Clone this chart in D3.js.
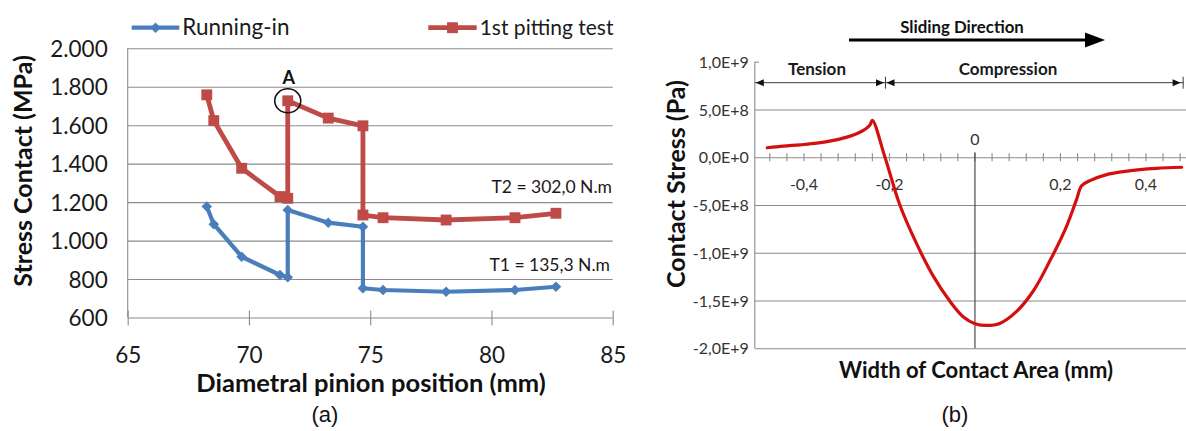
<!DOCTYPE html>
<html>
<head>
<meta charset="utf-8">
<script src="https://cdn.jsdelivr.net/npm/d3@7"></script>
<style>
  html, body { margin: 0; padding: 0; background: #ffffff; }
  svg { display: block; }
</style>
</head>
<body>
<script>
// ---------- Panel (a): contact stress along the pinion flank ----------
const pinionPositionMm = [68.26, 68.55, 69.70, 71.28, 71.60, 71.60, 73.27, 74.70, 74.70, 75.53, 78.13, 80.97, 82.66];
const runningInMPa     = [1177, 1085, 916, 821, 809, 1159, 1093, 1072, 752, 743, 734, 743, 760];
const pittingTestMPa   = [1758, 1624, 1376, 1229, 1220, 1727, 1637, 1597, 1133, 1119, 1107, 1119, 1142];
const seriesNames      = ["Running-in", "1st pitting test"];
const stressTicks      = [600, 800, 1000, 1200, 1400, 1600, 1800, 2000];
const stressTickLabels = ["600", "800", "1.000", "1.200", "1.400", "1.600", "1.800", "2.000"];
const positionTicks    = [65, 70, 75, 80, 85];
const torqueNotes      = ["T2 = 302,0 N.m", "T1 = 135,3 N.m"];
const markedPointIndex = 5;   // point "A" on the pitting-test series

// ---------- Panel (b): contact stress across the contact width ----------
const contactWidthMm = [-0.486, -0.448, -0.409, -0.370, -0.331, -0.292, -0.261, -0.246, -0.240,
                        -0.2105, -0.175, -0.136, -0.0975, -0.0585, -0.027, 0, 0.027, 0.058,
                        0.0975, 0.136, 0.175, 0.2145, 0.238, 0.2495, 0.269, 0.308, 0.347,
                        0.386, 0.425, 0.4835];
const contactStressPa = [0.99e8, 1.16e8, 1.30e8, 1.47e8, 1.76e8, 2.21e8, 2.81e8, 3.34e8, 3.86e8,
                         0, -5.08e8, -9.10e8, -1.245e9, -1.508e9, -1.672e9, -1.742e9, -1.761e9, -1.740e9,
                         -1.614e9, -1.403e9, -1.087e9, -7.20e8, -4.38e8, -2.98e8, -2.45e8, -1.82e8, -1.50e8,
                         -1.29e8, -1.16e8, -1.05e8];
const stressPaTicks      = [-2e9, -1.5e9, -1e9, -5e8, 0, 5e8, 1e9];
const stressPaTickLabels = ["-2,0E+9", "-1,5E+9", "-1,0E+9", "-5,0E+8", "0,0E+0", "5,0E+8", "1,0E+9"];
const widthTicks         = [-0.4, -0.2, 0, 0.2, 0.4];
const widthTickLabels    = ["-0,4", "-0,2", "0", "0,2", "0,4"];
const zoneLabels         = ["Tension", "Compression"];
const zoneBoundsMm       = [-0.515, -0.2105, 0.4835];

const W = 1186, H = 431;
const svg = d3.select("body").append("svg").attr("width", W).attr("height", H);

const BLUE = "#4a7ebb", RED = "#be4b48", GRID = "#8c8c8c";
const SANS = "Lato, 'Open Sans', sans-serif";

// ======================= Panel (a) =======================
const xA = d3.scaleLinear().domain([65, 85]).range([127.7, 612.7]);
const yA = d3.scaleLinear().domain([600, 2000]).range([317.5, 48.3]);
const gA = svg.append("g");

// horizontal gridlines + value labels
const yAxisA = gA.append("g")
  .attr("transform", `translate(${xA(65)},0)`)
  .call(d3.axisLeft(yA).tickValues(stressTicks)
    .tickFormat((d, i) => stressTickLabels[i])
    .tickSize(-(xA(85) - xA(65))).tickPadding(20));
yAxisA.select(".domain").remove();
yAxisA.selectAll(".tick line").attr("stroke", GRID).attr("stroke-width", 1.1);
yAxisA.selectAll(".tick text")
  .attr("font-family", SANS).attr("font-size", 22.5).attr("fill", "#1a1a1a").attr("dy", "0.36em");

// left axis line
gA.append("line").attr("x1", xA(65)).attr("x2", xA(65)).attr("y1", yA(2000)).attr("y2", yA(600))
  .attr("stroke", GRID).attr("stroke-width", 1.1);

// bottom axis with crossing ticks
const xAxisA = gA.append("g")
  .attr("transform", `translate(0,${yA(600)})`)
  .call(d3.axisBottom(xA).tickValues(positionTicks).tickSize(8).tickPadding(0));
xAxisA.select(".domain").remove();
xAxisA.selectAll(".tick line").attr("y1", -7).attr("y2", 8).attr("stroke", GRID).attr("stroke-width", 1.1);
xAxisA.selectAll(".tick text")
  .attr("y", 45).attr("dy", 0)
  .attr("font-family", SANS).attr("font-size", 22.5).attr("fill", "#1a1a1a");

// series lines and markers
const lineA = (vals) => d3.line().x((d, i) => xA(pinionPositionMm[i])).y(d => yA(d))(vals);

gA.append("path").attr("d", lineA(runningInMPa))
  .attr("fill", "none").attr("stroke", BLUE).attr("stroke-width", 4.2).attr("stroke-linejoin", "round");
gA.append("path").attr("d", lineA(pittingTestMPa))
  .attr("fill", "none").attr("stroke", RED).attr("stroke-width", 4.8).attr("stroke-linejoin", "round");

const diamond = d3.symbol(d3.symbolSquare, 56)();
const square  = d3.symbol(d3.symbolSquare, 118)();

gA.append("g").selectAll("path").data(runningInMPa).join("path")
  .attr("d", diamond)
  .attr("transform", (d, i) => `translate(${xA(pinionPositionMm[i])},${yA(d)}) rotate(45)`)
  .attr("fill", BLUE);
gA.append("g").selectAll("path").data(pittingTestMPa).join("path")
  .attr("d", square)
  .attr("transform", (d, i) => `translate(${xA(pinionPositionMm[i])},${yA(d)})`)
  .attr("fill", RED);

// point A
const ax = xA(pinionPositionMm[markedPointIndex]), ay = yA(pittingTestMPa[markedPointIndex]);
gA.append("ellipse").attr("cx", ax).attr("cy", ay).attr("rx", 13).attr("ry", 12)
  .attr("fill", "none").attr("stroke", "#111").attr("stroke-width", 1.6);
gA.append("text").attr("x", ax + 1).attr("y", ay - 17).attr("text-anchor", "middle")
  .attr("font-family", SANS).attr("font-weight", 700).attr("font-size", 18).attr("fill", "#111")
  .text("A");

// torque notes
gA.append("text").attr("x", 612).attr("y", yA(1200) - 9).attr("text-anchor", "end")
  .attr("font-family", SANS).attr("font-size", 17.5).attr("fill", "#1a1a1a").text(torqueNotes[0]);
gA.append("text").attr("x", 610).attr("y", yA(800) - 8).attr("text-anchor", "end")
  .attr("font-family", SANS).attr("font-size", 17.5).attr("fill", "#1a1a1a").text(torqueNotes[1]);

// legend
const legendA = [
  { x0: 131.7, x1: 179.3, color: BLUE, sym: diamond, rot: 45, w: 4.2, fs: 22.5 },
  { x0: 428.3, x1: 476.7, color: RED, sym: square, rot: 0, w: 4.8, fs: 21 }
];
legendA.forEach((l, i) => {
  const cy = 27.7;
  gA.append("line").attr("x1", l.x0).attr("x2", l.x1).attr("y1", cy).attr("y2", cy)
    .attr("stroke", l.color).attr("stroke-width", l.w);
  gA.append("path").attr("d", l.sym)
    .attr("transform", `translate(${(l.x0 + l.x1) / 2},${cy}) rotate(${l.rot})`).attr("fill", l.color);
  gA.append("text").attr("x", l.x1 + 3).attr("y", 35).attr("font-family", SANS)
    .attr("font-size", l.fs).attr("fill", "#1a1a1a").text(seriesNames[i]);
});

// axis titles
gA.append("text").attr("x", 371).attr("y", 392).attr("text-anchor", "middle")
  .attr("font-family", SANS).attr("font-weight", 700).attr("font-size", 25.5).attr("fill", "#111")
  .text("Diametral pinion position (mm)");
gA.append("text").attr("transform", "translate(32,171) rotate(-90)").attr("text-anchor", "middle")
  .attr("font-family", SANS).attr("font-weight", 700).attr("font-size", 25).attr("fill", "#111")
  .text("Stress Contact (MPa)");
gA.append("text").attr("x", 325).attr("y", 422).attr("text-anchor", "middle")
  .attr("font-family", "'Liberation Sans', Arial, sans-serif").attr("font-size", 22).attr("fill", "#111")
  .text("(a)");

// ======================= Panel (b) =======================
const xB = d3.scaleLinear().domain([-0.515, 0.5]).range([754.8, 1188.7]);
const yB = d3.scaleLinear().domain([-2e9, 1e9]).range([348.3, 61.7]);
const gB = svg.append("g");

// gridlines + value labels
const yAxisB = gB.append("g")
  .attr("transform", `translate(${xB(-0.515)},0)`)
  .call(d3.axisLeft(yB).tickValues(stressPaTicks)
    .tickFormat((d, i) => stressPaTickLabels[i])
    .tickSize(-(W - xB(-0.515))).tickPadding(6));
yAxisB.select(".domain").remove();
yAxisB.selectAll(".tick line")
  .attr("stroke", GRID).attr("stroke-width", 1.1)
  .attr("x2", d => d === 1e9 ? 4 : W - xB(-0.515));
yAxisB.selectAll(".tick text")
  .attr("font-family", SANS).attr("font-size", 16).attr("fill", "#333").attr("dy", "0.35em");

// plot border on the left
gB.append("line").attr("x1", xB(-0.515)).attr("x2", xB(-0.515)).attr("y1", yB(1e9)).attr("y2", yB(-2e9))
  .attr("stroke", GRID).attr("stroke-width", 1.1);

// minor ticks on the zero line
const minorTicks = d3.range(-12, 13).map(k => k * 0.04);
gB.append("g").selectAll("line").data(minorTicks).join("line")
  .attr("x1", d => xB(d)).attr("x2", d => xB(d))
  .attr("y1", yB(0) - 4).attr("y2", yB(0) + 4)
  .attr("stroke", GRID).attr("stroke-width", 1.1);

// vertical zero axis
gB.append("line").attr("x1", xB(0)).attr("x2", xB(0)).attr("y1", yB(0) - 5).attr("y2", yB(-2e9))
  .attr("stroke", "#3a3a3a").attr("stroke-width", 1.1);

// width labels
gB.append("g").selectAll("text").data(widthTicks).join("text")
  .attr("x", d => xB(d)).attr("y", d => d === 0 ? yB(0) - 12 : yB(0) + 33)
  .attr("text-anchor", "middle")
  .attr("font-family", SANS).attr("font-size", 16).attr("fill", "#333")
  .text((d, i) => widthTickLabels[i]);

// stress distribution curve
const lineB = d3.line()
  .x((d, i) => xB(contactWidthMm[i])).y(d => yB(d))
  .curve(d3.curveCatmullRom.alpha(0.5));
gB.append("path").attr("d", lineB(contactStressPa))
  .attr("fill", "none").attr("stroke", "#d40f0f").attr("stroke-width", 3.2)
  .attr("stroke-linejoin", "round").attr("stroke-linecap", "round");

// tension / compression zone dimension line
const dimY = 82.7, DIM = "#3c3c3c";
gB.append("line").attr("x1", xB(zoneBoundsMm[0])).attr("x2", xB(zoneBoundsMm[2]) + 2)
  .attr("y1", dimY).attr("y2", dimY).attr("stroke", DIM).attr("stroke-width", 1);
const arrowHead = (tipX, dir) =>
  `M${tipX},${dimY} L${tipX - dir * 8},${dimY - 3.5} L${tipX - dir * 8},${dimY + 3.5} Z`;
const bx = xB(zoneBoundsMm[1]);
const ex = xB(zoneBoundsMm[2]);
[
  arrowHead(xB(zoneBoundsMm[0]) + 1, -1),
  arrowHead(bx - 1, 1),
  arrowHead(bx + 1.5, -1),
  arrowHead(ex - 1, 1)
].forEach(d => gB.append("path").attr("d", d).attr("fill", "#111"));
[bx + 0.5, ex + 1.5].forEach(x =>
  gB.append("line").attr("x1", x).attr("x2", x).attr("y1", dimY - 6).attr("y2", dimY + 6)
    .attr("stroke", DIM).attr("stroke-width", 1));
gB.append("text").attr("x", 817).attr("y", 75).attr("text-anchor", "middle")
  .attr("font-family", SANS).attr("font-weight", 700).attr("font-size", 17).attr("fill", "#1a1a1a")
  .text(zoneLabels[0]);
gB.append("text").attr("x", 1008).attr("y", 75).attr("text-anchor", "middle")
  .attr("font-family", SANS).attr("font-weight", 700).attr("font-size", 17).attr("fill", "#1a1a1a")
  .text(zoneLabels[1]);

// sliding direction arrow
gB.append("text").attr("x", 962).attr("y", 33).attr("text-anchor", "middle")
  .attr("font-family", SANS).attr("font-weight", 700).attr("font-size", 16.8).attr("fill", "#111")
  .text("Sliding Direction");
gB.append("line").attr("x1", 849).attr("x2", 1088).attr("y1", 40).attr("y2", 40)
  .attr("stroke", "#000").attr("stroke-width", 3);
gB.append("path").attr("d", "M1085,32.5 L1105,40 L1085,47.5 Z").attr("fill", "#000");

// axis titles
gB.append("text").attr("x", 976).attr("y", 378).attr("text-anchor", "middle")
  .attr("font-family", SANS).attr("font-weight", 700).attr("font-size", 22).attr("fill", "#111")
  .text("Width of Contact Area (mm)");
gB.append("text").attr("transform", "translate(685,184) rotate(-90)").attr("text-anchor", "middle")
  .attr("font-family", SANS).attr("font-weight", 700).attr("font-size", 25).attr("fill", "#111")
  .text("Contact Stress (Pa)");
gB.append("text").attr("x", 955).attr("y", 422).attr("text-anchor", "middle")
  .attr("font-family", "'Liberation Sans', Arial, sans-serif").attr("font-size", 22).attr("fill", "#111")
  .text("(b)");
</script>
</body>
</html>
